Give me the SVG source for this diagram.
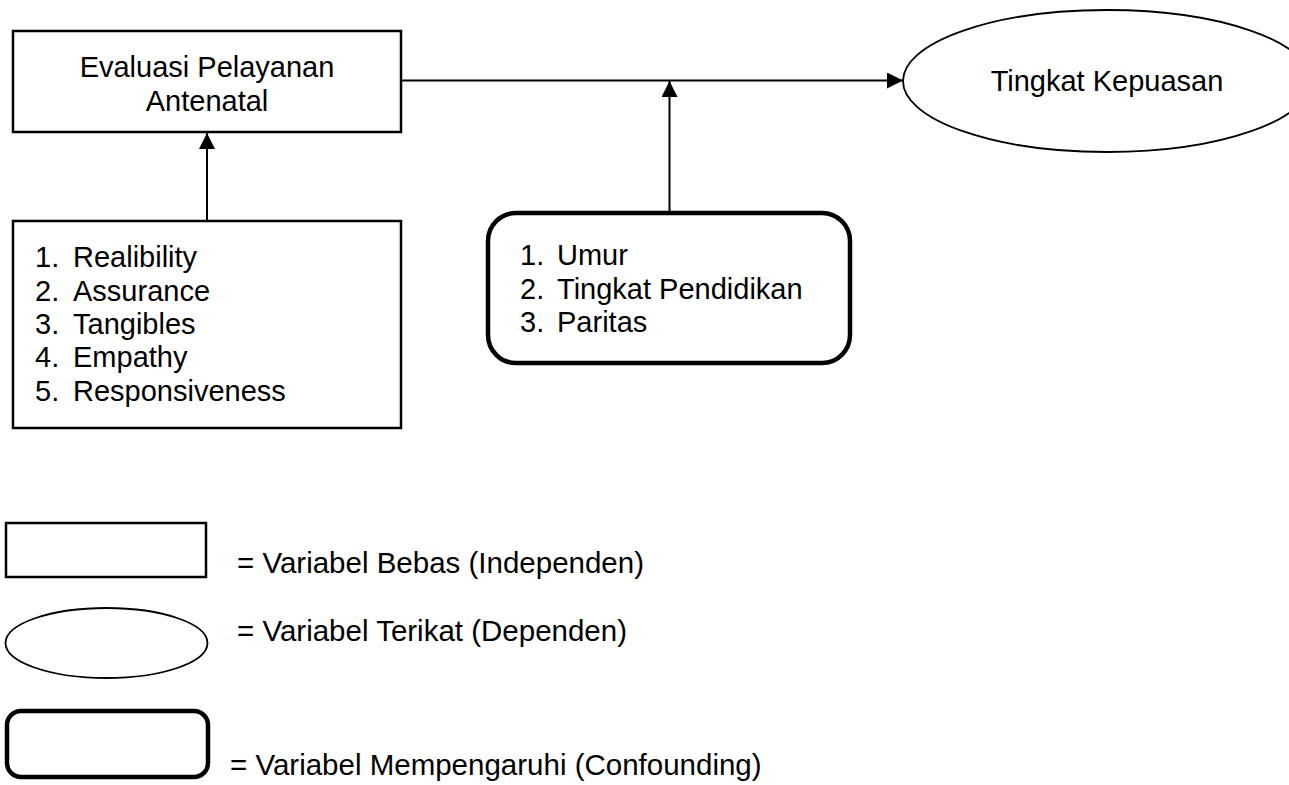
<svg xmlns="http://www.w3.org/2000/svg" width="1289" height="785" viewBox="0 0 1289 785">
<defs>
<marker id="arr" viewBox="0 0 10 10" refX="10" refY="5" markerWidth="16" markerHeight="16" markerUnits="userSpaceOnUse" orient="auto">
<path d="M0,0 L10,5 L0,10 Z" fill="#000"/>
</marker>
<style>
text{font-family:"Liberation Sans",Arial,sans-serif;font-size:29px;fill:#000}
text.lg{font-size:29.5px}
.box{fill:#fff;stroke:#000;stroke-width:2.5}
.thick{fill:#fff;stroke:#000;stroke-width:4.5}
.ell{fill:#fff;stroke:#000;stroke-width:1.8}
.conn{stroke:#000;stroke-width:2;fill:none}
</style>
</defs>
<rect width="1289" height="785" fill="#fff"/>
<g id="connectors">
<line class="conn" x1="401" y1="80.5" x2="903" y2="80.5" marker-end="url(#arr)"/>
<line class="conn" x1="207" y1="221" x2="207" y2="133" marker-end="url(#arr)"/>
<line class="conn" x1="669.5" y1="213" x2="669.5" y2="81" marker-end="url(#arr)"/>
</g>
<g id="node-evaluasi">
<rect class="box" x="13" y="31" width="388" height="101"/>
<text x="207" y="77" text-anchor="middle">Evaluasi Pelayanan</text>
<text x="207" y="111" text-anchor="middle">Antenatal</text>
</g>
<g id="node-kepuasan">
<ellipse class="ell" cx="1107" cy="81" rx="204" ry="71"/>
<text x="1107" y="91" text-anchor="middle">Tingkat Kepuasan</text>
</g>
<g id="node-dimensi">
<rect class="box" x="13" y="221" width="388" height="207"/>
<text x="35" y="267">1.</text><text x="73" y="267">Realibility</text>
<text x="35" y="300.5">2.</text><text x="73" y="300.5">Assurance</text>
<text x="35" y="334">3.</text><text x="73" y="334">Tangibles</text>
<text x="35" y="367">4.</text><text x="73" y="367">Empathy</text>
<text x="35" y="400.5">5.</text><text x="73" y="400.5">Responsiveness</text>
</g>
<g id="node-confounding">
<rect class="thick" x="488" y="213" width="362" height="150" rx="28" ry="28"/>
<text x="520" y="265">1.</text><text x="557" y="265">Umur</text>
<text x="520" y="298.5">2.</text><text x="557" y="298.5">Tingkat Pendidikan</text>
<text x="520" y="332">3.</text><text x="557" y="332">Paritas</text>
</g>
<g id="legend-bebas">
<rect class="box" x="6" y="523" width="200" height="54"/>
<text class="lg" x="237" y="573">= Variabel Bebas (Independen)</text>
</g>
<g id="legend-terikat">
<ellipse class="ell" cx="106.5" cy="643" rx="101" ry="35"/>
<text class="lg" x="237" y="641">= Variabel Terikat (Dependen)</text>
</g>
<g id="legend-confounding">
<rect class="thick" x="7" y="711" width="201" height="66" rx="14" ry="14"/>
<text class="lg" x="230" y="775">= Variabel Mempengaruhi (Confounding)</text>
</g>
</svg>
